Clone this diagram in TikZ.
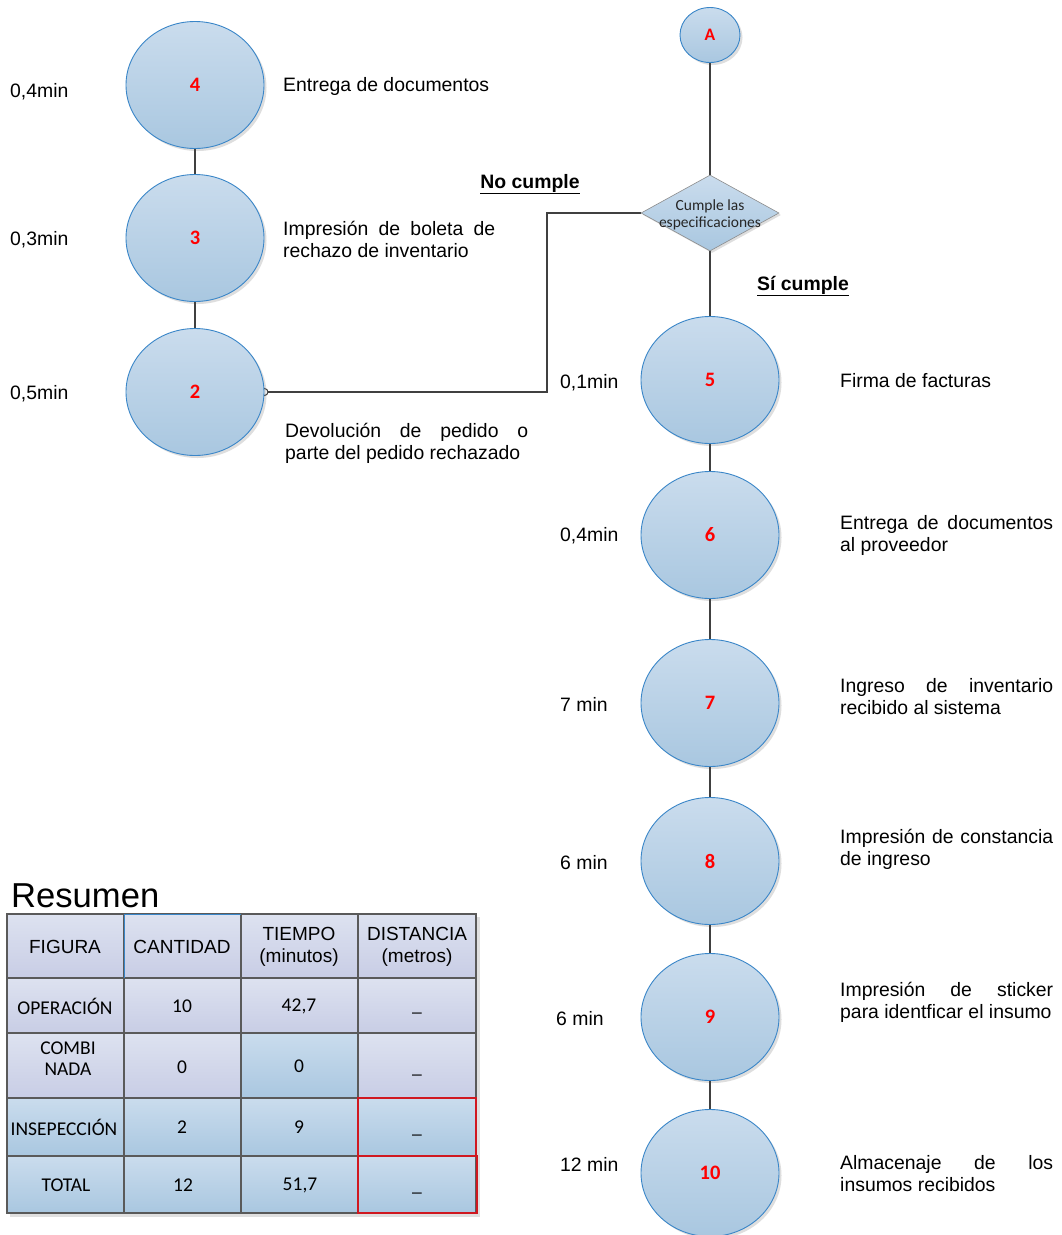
\documentclass[tikz,border=0pt]{standalone}
\usepackage{fontspec}
\setmainfont{Liberation Sans}
\newfontfamily\calib{Carlito}
\usetikzlibrary{shapes.geometric,shadows}
\pgfdeclarelayer{background}
\pgfsetlayers{background,main}

\definecolor{circtop}{HTML}{CADCED}
\definecolor{circbot}{HTML}{A9C7E0}
\definecolor{circedge}{HTML}{3A86C8}
\definecolor{linegray}{HTML}{404040}
\definecolor{lavtop}{HTML}{DDE2F0}
\definecolor{lavbot}{HTML}{C8CDE5}
\definecolor{gridgray}{HTML}{5A5A5A}
\definecolor{cellred}{HTML}{D01820}

% a line of text stretched to a given width (justified line)
\newcommand{\jl}[2]{\hbox to #1{#2}}

\tikzset{
  op/.style={ellipse, minimum width=138pt, minimum height=127pt, inner sep=0pt,
    top color=circtop, bottom color=circbot, draw=circedge, line width=0.9pt,
    drop shadow={shadow xshift=2.5pt, shadow yshift=-2.5pt, opacity=0.18, fill=black!70},
    font=\calib\bfseries\fontsize{20.5}{22}\selectfont, text=red},
  conn/.style={draw=linegray, line width=2pt},
  lbl/.style={anchor=west, inner sep=0pt, align=left, yshift=-1.5pt,
    font=\fontsize{19.4}{21.5}\selectfont},
  flag/.style={inner sep=0pt, yshift=-2pt, font=\bfseries\fontsize{19.4}{22}\selectfont},
  hd/.style={inner sep=0pt, align=center, yshift=-1.5pt, font=\fontsize{19}{22}\selectfont},
  cell/.style={inner sep=0pt, align=center, yshift=-1pt, font=\calib\fontsize{19.5}{21}\selectfont},
  lav/.style={top color=lavtop, bottom color=lavbot},
  blu/.style={top color=circtop, bottom color=circbot},
}

\begin{document}
\begin{tikzpicture}[x=1pt, y=-1pt]
\useasboundingbox (0,0) rectangle (1062,1235);
\begin{pgfonlayer}{background}
  \fill[white] (0,0) rectangle (1062,1235);
\end{pgfonlayer}

% ---------- left branch: rejected order ----------
\node[op] (n4) at (195,85) {4};
\node[op] (n3) at (195,238) {3};
\node[op] (n2) at (195,392) {2};

\node[lbl] (t4) at (10,90) {0,4min};
\node[lbl] (t3) at (10,238) {0,3min};
\node[lbl] (t2) at (10,392) {0,5min};

\node[lbl] (d4) at (283,85) {Entrega de documentos};
\node[lbl] (d3) at (283,238) {\jl{212pt}{Impresión de boleta de}\\rechazo de inventario};
\node[lbl] (d2) at (285,442) {\jl{243pt}{Devolución de pedido o}\\parte del pedido rechazado};

% ---------- right branch: accepted order ----------
\node[op, minimum width=60pt, minimum height=55pt,
      font=\calib\bfseries\fontsize{17.5}{20}\selectfont] (A) at (710,35) {A};

\node[diamond, minimum width=138pt, minimum height=76pt, inner sep=0pt,
      top color=circtop, bottom color=circbot, draw=black!45, line width=0.6pt,
      drop shadow={shadow xshift=2pt, shadow yshift=-2pt, opacity=0.18, fill=black!70}]
      (dia) at (710,213) {};
\node[align=center, inner sep=0pt, text=black!85, yshift=-2pt,
      font=\calib\fontsize{15.5}{16.5}\selectfont] (diatext) at (710,213)
      {Cumple las\\especificaciones};

\node[flag] (no) at (530,182) {\underline{No cumple}};
\node[flag] (si) at (803,284) {\underline{Sí cumple}};

\node[op] (n5) at (710,380) {5};
\node[op] (n6) at (710,535) {6};
\node[op] (n7) at (710,703) {7};
\node[op] (n8) at (710,861) {8};
\node[op] (n9) at (710,1017) {9};
\node[op] (n10) at (710,1173) {10};

\node[lbl] (t5) at (560,381) {0,1min};
\node[lbl] (t6) at (560,534) {0,4min};
\node[lbl] (t7) at (560,703) {7 min};
\node[lbl] (t8) at (560,861) {6 min};
\node[lbl] (t9) at (556,1017) {6 min};
\node[lbl] (t10) at (560,1163) {12 min};

\node[lbl] (d5) at (840,379) {Firma de facturas};
\node[lbl] (d6) at (840,534) {\jl{213pt}{Entrega de documentos}\\al proveedor};
\node[lbl] (d7) at (840,695) {\jl{213pt}{Ingreso de inventario}\\recibido al sistema};
\node[lbl] (d8) at (840,848) {\jl{213pt}{Impresión de constancia}\\de ingreso};
\node[lbl] (d9) at (840,1001) {\jl{213pt}{Impresión de sticker}\\para identficar el insumo};
\node[lbl] (d10) at (840,1172) {\jl{213pt}{Almacenaje de los}\\insumos recibidos};

% ---------- connectors ----------
\coordinate (bend) at (547,213);
\begin{pgfonlayer}{background}
  \draw[conn] (n4) -- (n3);
  \draw[conn] (n3) -- (n2);
  \draw[conn] (A) -- (dia);
  \draw[conn] (dia) -- (n5);
  \draw[conn] (n5) -- (n6);
  \draw[conn] (n6) -- (n7);
  \draw[conn] (n7) -- (n8);
  \draw[conn] (n8) -- (n9);
  \draw[conn] (n9) -- (n10);
  \draw[conn] (dia.west) -- (bend) |- (n2.east);
  \draw[draw=linegray, line width=1pt, fill=white] (n2.east) circle (3.5pt);
\end{pgfonlayer}

% ---------- summary table ----------
\node[anchor=west, inner sep=0pt, font=\fontsize{34.6}{40}\selectfont] (res) at (11,896) {Resumen};

\fill[black!12] (10,917) rectangle (480,1217);
\shade[lav] (7,914) rectangle (476,978);
\shade[lav] (7,978) rectangle (476,1033);
\shade[lav] (7,1033) rectangle (476,1098);
\shade[blu] (241,1033) rectangle (358,1098);
\shade[blu] (7,1098) rectangle (476,1156);
\shade[blu] (7,1156) rectangle (476,1213);

\draw[gridgray, line width=1.3pt]
  (7,914) rectangle (476,1213)
  (7,978) -- (476,978)
  (7,1033) -- (476,1033)
  (7,1098) -- (476,1098)
  (7,1156) -- (476,1156)
  (124,914) -- (124,1213)
  (241,914) -- (241,1213)
  (358,914) -- (358,1213);
\draw[circedge, line width=0.9pt] (124,978) -- (124,914) -- (241,914);
\draw[cellred, line width=1.1pt] (358,1098) rectangle (476,1156);
\draw[cellred, line width=1.1pt] (358,1156) rectangle (477,1213);

\node[hd] (h1) at (65,945) {FIGURA};
\node[hd] (h2) at (182,945) {CANTIDAD};
\node[hd] (h3) at (299,945) {TIEMPO\\(minutos)};
\node[hd] (h4) at (417,945) {DISTANCIA\\(metros)};

\node[cell] (r1c1) at (65,1005) {OPERACIÓN};
\node[cell] (r1c2) at (182,1005) {10};
\node[cell] (r1c3) at (299,1005) {42,7};
\node[cell] (r1c4) at (417,1012) {\_};

\node[cell] (r2c1) at (68,1058) {COMBI\\NADA};
\node[cell] (r2c2) at (182,1066) {0};
\node[cell] (r2c3) at (299,1065) {0};
\node[cell] (r2c4) at (417,1074) {\_};

\node[cell] (r3c1) at (64,1126) {INSEPECCIÓN};
\node[cell] (r3c2) at (182,1126) {2};
\node[cell] (r3c3) at (299,1126) {9};
\node[cell] (r3c4) at (417,1134) {\_};

\node[cell] (r4c1) at (66,1184) {TOTAL};
\node[cell] (r4c2) at (183,1184) {12};
\node[cell] (r4c3) at (300,1184) {51,7};
\node[cell] (r4c4) at (417,1192) {\_};
\end{tikzpicture}
\end{document}
